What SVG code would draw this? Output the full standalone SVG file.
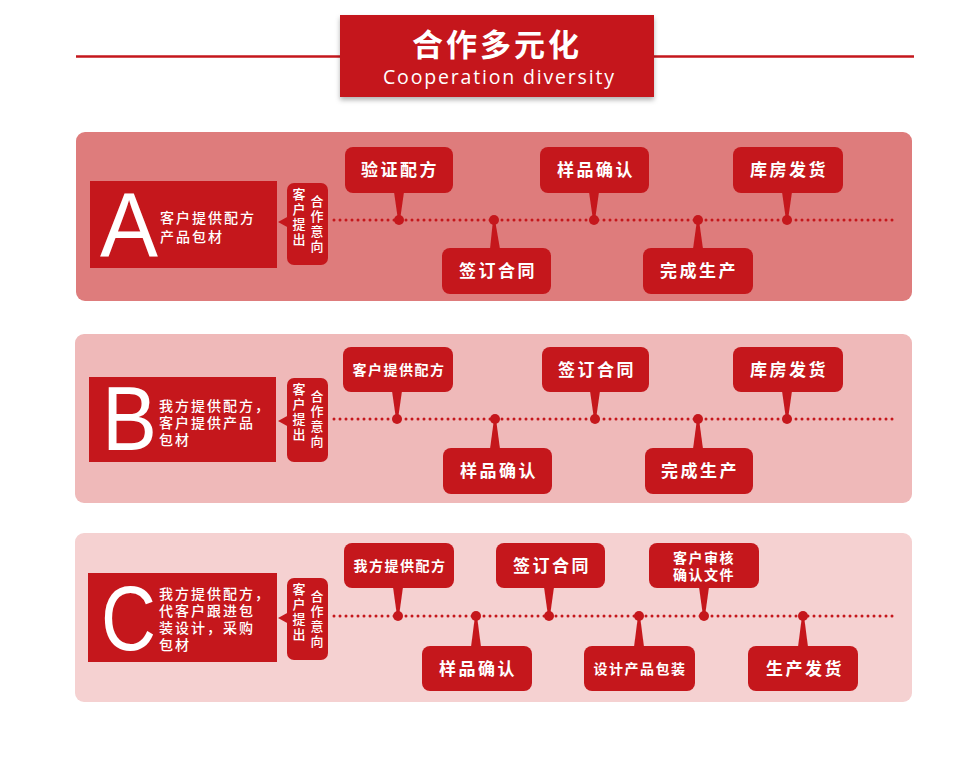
<svg xmlns="http://www.w3.org/2000/svg" width="958" height="764" viewBox="0 0 958 764">
<defs>
<style>
.red{fill:#c5171c}
.cj{font-family:"Noto Sans CJK SC","Noto Sans",sans-serif;fill:#fff}
.ms{font-size:17px;font-weight:bold;letter-spacing:2.5px;text-anchor:middle}
.ms6{font-size:14px;font-weight:bold;letter-spacing:1.5px;text-anchor:middle}
.lt{font-size:14px;letter-spacing:2px;font-weight:500}
.big{font-family:"Liberation Sans",Arial,sans-serif;font-size:90px;fill:#fff}
.vt{font-size:13px;font-weight:500;writing-mode:vertical-rl;text-orientation:upright;letter-spacing:2px}
.dots{stroke:#c5171c;stroke-width:3;stroke-linecap:round;stroke-dasharray:0 6;fill:none}
</style>
<filter id="sh" x="-10%" y="-10%" width="120%" height="130%">
<feDropShadow dx="0" dy="3" stdDeviation="2.5" flood-color="#000" flood-opacity="0.3"/>
</filter>
</defs>
<rect width="958" height="764" fill="#fff"/>

<g id="header">
<line x1="76" y1="56.5" x2="914" y2="56.5" stroke="#c5171c" stroke-width="2.5"/>
<rect x="340" y="15" width="314" height="82" class="red" filter="url(#sh)"/>
<text x="497" y="56" class="cj" font-size="31" font-weight="bold" text-anchor="middle" letter-spacing="3">合作多元化</text>
<text x="383" y="84" font-family="'Open Sans','Noto Sans',sans-serif" font-size="19.5" fill="#fff" textLength="232" letter-spacing="1">Cooperation diversity</text>
</g>

<g id="panelA">
<rect x="76" y="132" width="836" height="169" rx="9" fill="#de7c7c"/>
<rect x="90" y="181" width="187" height="87" class="red"/>
<text x="100" y="256" class="big" textLength="58" lengthAdjust="spacingAndGlyphs">A</text>
<text x="160" y="223" class="cj lt" font-size="15">客户提供配方</text>
<text x="160" y="242" class="cj lt" font-size="15">产品包材</text>
</g>
<g id="intentA">
<rect x="287" y="183" width="41" height="82" rx="7" class="red"/>
<polygon points="289,216 278,222 289,228" class="red"/>
<text x="299" y="188" class="cj vt">客户提出</text>
<text x="317" y="195" class="cj vt">合作意向</text>
</g>

<g id="panelB">
<rect x="75" y="334" width="837" height="169" rx="9" fill="#efb9b9"/>
<rect x="89" y="377" width="187" height="85" class="red"/>
<text x="102" y="450" class="big" font-size="87" textLength="55" lengthAdjust="spacingAndGlyphs">B</text>
<text x="159" y="411" class="cj lt">我方提供配方，</text>
<text x="159" y="428" class="cj lt">客户提供产品</text>
<text x="159" y="445" class="cj lt">包材</text>
</g>
<g id="intentB">
<rect x="287" y="378" width="41" height="84" rx="7" class="red"/>
<polygon points="289,415 278,421 289,427" class="red"/>
<text x="299" y="383" class="cj vt">客户提出</text>
<text x="317" y="390" class="cj vt">合作意向</text>
</g>

<g id="panelC">
<rect x="75" y="533" width="837" height="169" rx="9" fill="#f5d1d1"/>
<rect x="88" y="573" width="189" height="89" class="red"/>
<text x="101" y="650" class="big" font-size="91" textLength="55" lengthAdjust="spacingAndGlyphs">C</text>
<text x="159" y="599" class="cj lt">我方提供配方，</text>
<text x="159" y="616" class="cj lt">代客户跟进包</text>
<text x="159" y="633" class="cj lt">装设计，采购</text>
<text x="159" y="650" class="cj lt">包材</text>
</g>
<g id="intentC">
<rect x="287" y="578" width="41" height="82" rx="7" class="red"/>
<polygon points="289,612 278,618 289,624" class="red"/>
<text x="299" y="583" class="cj vt">客户提出</text>
<text x="317" y="590" class="cj vt">合作意向</text>
</g>

<g id="connectors">
<line x1="334" y1="220" x2="895" y2="220" class="dots"/>
<line x1="334" y1="419" x2="893" y2="419" class="dots"/>
<line x1="334" y1="616" x2="893" y2="616" class="dots"/>
</g>

<!-- Panel A milestones -->
<g id="a1"><rect x="345" y="147" width="108" height="46" rx="8" class="red"/><polygon points="394,192 404,192 400,220 398,220" class="red"/><circle cx="399" cy="220" r="5" class="red"/><text x="400" y="176" class="cj ms">验证配方</text></g>
<g id="a2"><rect x="442" y="248" width="109" height="46" rx="8" class="red"/><polygon points="490,249 500,249 495,220 493,220" class="red"/><circle cx="494" cy="220" r="5" class="red"/><text x="498" y="277" class="cj ms">签订合同</text></g>
<g id="a3"><rect x="540" y="147" width="109" height="46" rx="8" class="red"/><polygon points="589,192 599,192 595,220 593,220" class="red"/><circle cx="594" cy="220" r="5" class="red"/><text x="596" y="176" class="cj ms">样品确认</text></g>
<g id="a4"><rect x="643" y="248" width="110" height="46" rx="8" class="red"/><polygon points="693,249 703,249 699,220 697,220" class="red"/><circle cx="698" cy="220" r="5" class="red"/><text x="699" y="277" class="cj ms">完成生产</text></g>
<g id="a5"><rect x="733" y="147" width="110" height="46" rx="8" class="red"/><polygon points="782,192 792,192 788,220 786,220" class="red"/><circle cx="787" cy="220" r="5" class="red"/><text x="789" y="176" class="cj ms">库房发货</text></g>

<!-- Panel B milestones -->
<g id="b1"><rect x="343" y="347" width="110" height="45" rx="8" class="red"/><polygon points="392,391 402,391 398,419 396,419" class="red"/><circle cx="397" cy="419" r="5" class="red"/><text x="399" y="375" class="cj ms6">客户提供配方</text></g>
<g id="b2"><rect x="443" y="448" width="109" height="46" rx="8" class="red"/><polygon points="490,449 500,449 496,419 494,419" class="red"/><circle cx="495" cy="419" r="5" class="red"/><text x="499" y="477" class="cj ms">样品确认</text></g>
<g id="b3"><rect x="542" y="347" width="107" height="45" rx="8" class="red"/><polygon points="590,391 600,391 596,419 594,419" class="red"/><circle cx="595" cy="419" r="5" class="red"/><text x="597" y="376" class="cj ms">签订合同</text></g>
<g id="b4"><rect x="645" y="448" width="108" height="46" rx="8" class="red"/><polygon points="693,449 703,449 699,419 697,419" class="red"/><circle cx="698" cy="419" r="5" class="red"/><text x="700" y="477" class="cj ms">完成生产</text></g>
<g id="b5"><rect x="733" y="347" width="110" height="45" rx="8" class="red"/><polygon points="782,391 792,391 788,419 786,419" class="red"/><circle cx="787" cy="419" r="5" class="red"/><text x="789" y="376" class="cj ms">库房发货</text></g>

<!-- Panel C milestones -->
<g id="c1"><rect x="344" y="543" width="110" height="45" rx="8" class="red"/><polygon points="393,587 403,587 399,616 397,616" class="red"/><circle cx="398" cy="616" r="5" class="red"/><text x="400" y="571" class="cj ms6">我方提供配方</text></g>
<g id="c2"><rect x="422" y="646" width="110" height="45" rx="8" class="red"/><polygon points="471,647 481,647 477,616 475,616" class="red"/><circle cx="476" cy="616" r="5" class="red"/><text x="478" y="675" class="cj ms">样品确认</text></g>
<g id="c3"><rect x="496" y="543" width="109" height="45" rx="8" class="red"/><polygon points="544,587 554,587 550,616 548,616" class="red"/><circle cx="549" cy="616" r="5" class="red"/><text x="552" y="572" class="cj ms">签订合同</text></g>
<g id="c4"><rect x="584" y="646" width="111" height="45" rx="8" class="red"/><polygon points="634,647 644,647 640,616 638,616" class="red"/><circle cx="639" cy="616" r="5" class="red"/><text x="640" y="674" class="cj ms6">设计产品包装</text></g>
<g id="c5"><rect x="649" y="543" width="110" height="45" rx="8" class="red"/><polygon points="699,587 709,587 705,616 703,616" class="red"/><circle cx="704" cy="616" r="5" class="red"/><text x="704" y="563" class="cj ms6" letter-spacing="1">客户审核</text><text x="704" y="580" class="cj ms6" letter-spacing="1">确认文件</text></g>
<g id="c6"><rect x="748" y="646" width="110" height="45" rx="8" class="red"/><polygon points="798,647 808,647 804,616 802,616" class="red"/><circle cx="803" cy="616" r="5" class="red"/><text x="805" y="675" class="cj ms">生产发货</text></g>
</svg>
